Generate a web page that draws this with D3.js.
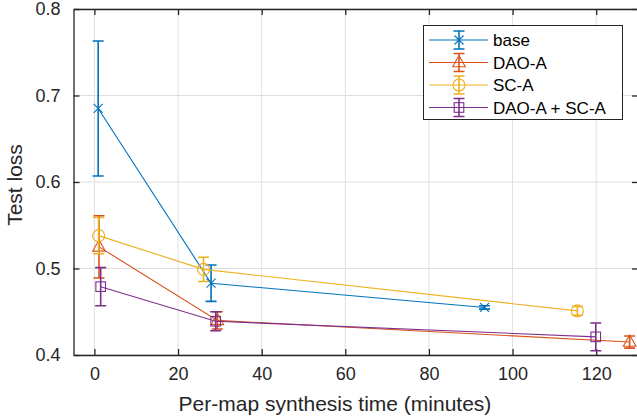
<!DOCTYPE html>
<html>
<head>
<meta charset="utf-8">
<script src="https://cdn.jsdelivr.net/npm/d3@7"></script>
<style>
  html, body { margin: 0; padding: 0; background: #fff; }
  svg { display: block; font-family: "Liberation Sans", Arial, Helvetica, sans-serif; }
</style>
</head>
<body>
<svg id="chart" width="637" height="418"></svg>
<script>
// Series: synthesis time (minutes), mean test loss and error-bar half-width
const seriesNames = ["base", "DAO-A", "SC-A", "DAO-A + SC-A"];
const baseTime  = [0.9, 27.9, 93.3];
const baseLoss  = [0.685, 0.483, 0.455];
const baseErr   = [0.078, 0.021, 0.002];
const daoTime   = [1.1, 29.4, 128.0];
const daoLoss   = [0.525, 0.440, 0.415];
const daoErr    = [0.036, 0.010, 0.007];
const scTime    = [1.0, 26.1, 115.5];
const scLoss    = [0.538, 0.499, 0.451];
const scErr     = [0.021, 0.014, 0.005];
const bothTime  = [1.5, 29.0, 119.9];
const bothLoss  = [0.479, 0.439, 0.421];
const bothErr   = [0.022, 0.011, 0.016];
const xTicks = [0, 20, 40, 60, 80, 100, 120];
const yTicks = [0.4, 0.5, 0.6, 0.7, 0.8];
const xLabel = "Per-map synthesis time (minutes)";
const yLabel = "Test loss";

const colors = ["#0072BD", "#D95319", "#EDB120", "#7E2F8E"];
const markers = ["cross", "triangle", "circle", "square"];

const series = [
  { time: baseTime, loss: baseLoss, err: baseErr },
  { time: daoTime,  loss: daoLoss,  err: daoErr },
  { time: scTime,   loss: scLoss,   err: scErr },
  { time: bothTime, loss: bothLoss, err: bothErr }
].map((s, i) => ({
  name: seriesNames[i], color: colors[i], marker: markers[i],
  pts: s.time.map((t, j) => ({ x: t, y: s.loss[j], e: s.err[j] }))
}));

const svg = d3.select("#chart");
const pLeft = 73.5, pRight = 638, pTop = 9, pBottom = 355;
const x = d3.scaleLinear().domain([-5, 130]).range([pLeft, pRight]);
const y = d3.scaleLinear().domain([0.4, 0.8]).range([pBottom, pTop]);
const axisColor = "#262626";

// grid
const grid = svg.append("g");
grid.selectAll("line.gx").data(xTicks).join("line")
  .attr("x1", d => x(d)).attr("x2", d => x(d)).attr("y1", pTop).attr("y2", pBottom)
  .attr("stroke", "#dfdfdf").attr("stroke-width", 1);
grid.selectAll("line.gy").data(yTicks).join("line")
  .attr("y1", d => y(d)).attr("y2", d => y(d)).attr("x1", pLeft).attr("x2", pRight)
  .attr("stroke", "#dfdfdf").attr("stroke-width", 1);

// axes (ticks point inward)
const xAxisB = d3.axisBottom(x).tickValues(xTicks).tickSizeInner(-6).tickSizeOuter(0).tickPadding(12).tickFormat(d3.format("d"));
const xAxisT = d3.axisTop(x).tickValues(xTicks).tickSizeInner(-6).tickSizeOuter(0).tickFormat("");
const yAxisL = d3.axisLeft(y).tickValues(yTicks).tickSizeInner(-6).tickSizeOuter(0).tickPadding(13).tickFormat(d3.format(".1f"));
const yAxisR = d3.axisRight(y).tickValues(yTicks).tickSizeInner(-6).tickSizeOuter(0).tickFormat("");

function styleAxis(g) {
  g.select(".domain").attr("stroke", axisColor).attr("stroke-width", 1.3);
  g.selectAll(".tick line").attr("stroke", axisColor).attr("stroke-width", 1.3);
  g.selectAll(".tick text").attr("fill", axisColor).attr("font-size", 18)
    .attr("font-family", "'Liberation Sans', Arial, sans-serif");
}
svg.append("g").attr("transform", `translate(0,${pBottom})`).call(xAxisB).call(styleAxis);
svg.append("g").attr("transform", `translate(0,${pTop})`).call(xAxisT).call(styleAxis);
svg.append("g").attr("transform", `translate(${pLeft},0)`).call(yAxisL).call(styleAxis);
svg.append("g").attr("transform", `translate(${pRight},0)`).call(yAxisR).call(styleAxis);

// axis labels
svg.append("text").attr("x", 335).attr("y", 411)
  .attr("text-anchor", "middle").attr("font-size", 21).attr("fill", axisColor).text(xLabel);
svg.append("text").attr("transform", "translate(22,185) rotate(-90)")
  .attr("text-anchor", "middle").attr("font-size", 21).attr("fill", axisColor).text(yLabel);

// marker drawing
function drawMarker(g, type, cx, cy, color) {
  if (type === "cross") {
    const r = 4.5;
    g.append("path").attr("d", `M${cx-r},${cy-r}L${cx+r},${cy+r}M${cx-r},${cy+r}L${cx+r},${cy-r}`)
      .attr("stroke", color).attr("stroke-width", 1.1).attr("fill", "none");
  } else if (type === "triangle") {
    const r = 7;
    g.append("path").attr("d", `M${cx},${cy-r}L${cx+r*0.9},${cy+r*0.6}L${cx-r*0.9},${cy+r*0.6}Z`)
      .attr("stroke", color).attr("stroke-width", 1.1).attr("fill", "none");
  } else if (type === "circle") {
    g.append("circle").attr("cx", cx).attr("cy", cy).attr("r", 6)
      .attr("stroke", color).attr("stroke-width", 1.1).attr("fill", "none");
  } else if (type === "square") {
    const r = 4.8;
    g.append("rect").attr("x", cx-r).attr("y", cy-r).attr("width", 2*r).attr("height", 2*r)
      .attr("stroke", color).attr("stroke-width", 1.1).attr("fill", "none");
  }
}
function drawErrorBar(g, cx, yHi, yLo, color) {
  const c = 5.5;
  g.append("path")
    .attr("d", `M${cx},${yHi}L${cx},${yLo}M${cx-c},${yHi}L${cx+c},${yHi}M${cx-c},${yLo}L${cx+c},${yLo}`)
    .attr("stroke", color).attr("stroke-width", 1.6).attr("fill", "none");
}

const plot = svg.append("g");
const line = d3.line().x(d => x(d.x)).y(d => y(d.y));
series.forEach(s => {
  const g = plot.append("g");
  g.append("path").datum(s.pts).attr("d", line)
    .attr("stroke", s.color).attr("stroke-width", 1.1).attr("fill", "none");
  s.pts.forEach(p => {
    drawErrorBar(g, x(p.x), y(p.y + p.e), y(p.y - p.e), s.color);
    drawMarker(g, s.marker, x(p.x), y(p.y), s.color);
  });
});

// legend
const lg = svg.append("g");
lg.append("rect").attr("x", 423.5).attr("y", 25.5).attr("width", 199).attr("height", 94)
  .attr("fill", "#fff").attr("stroke", axisColor).attr("stroke-width", 1);
series.forEach((s, i) => {
  const ly = 40 + i * 22.5;
  lg.append("line").attr("x1", 429).attr("x2", 488).attr("y1", ly).attr("y2", ly)
    .attr("stroke", s.color).attr("stroke-width", 1.1);
  drawErrorBar(lg, 459, ly - 9, ly + 9, s.color);
  drawMarker(lg, s.marker, 459, ly, s.color);
  lg.append("text").attr("x", 493).attr("y", ly + 6).attr("font-size", 17)
    .attr("fill", "#000").text(s.name);
});
</script>
</body>
</html>
